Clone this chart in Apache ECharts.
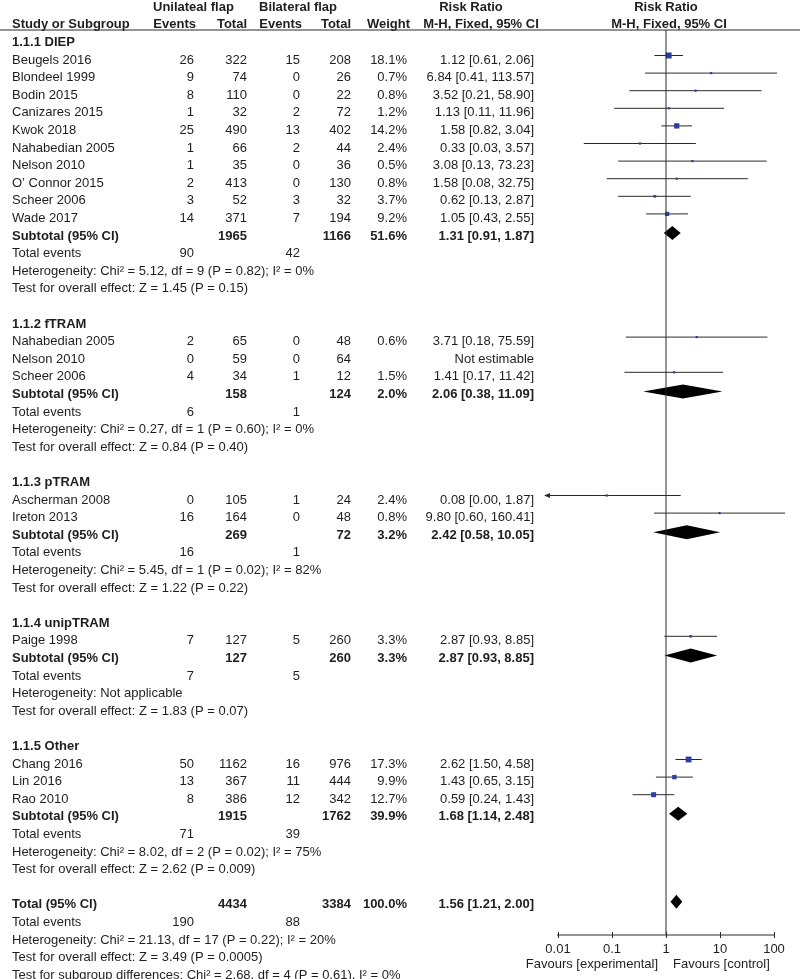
<!DOCTYPE html>
<html><head><meta charset="utf-8">
<script src="https://cdn.jsdelivr.net/npm/echarts@6/dist/echarts.min.js"></script>
<style>html,body{margin:0;padding:0;background:#fff}#c{width:800px;height:979px}</style>
</head><body><div id="c"></div><script>
// ---------------- DATA ----------------
const groupTitles = ['1.1.1 DIEP','1.1.2 fTRAM','1.1.3 pTRAM','1.1.4 unipTRAM','1.1.5 Other'];
const studyNames = ['Beugels 2016','Blondeel 1999','Bodin 2015','Canizares 2015','Kwok 2018','Nahabedian 2005','Nelson 2010','O\u2019 Connor 2015','Scheer 2006','Wade 2017',
  'Nahabedian 2005','Nelson 2010','Scheer 2006','Ascherman 2008','Ireton 2013','Paige 1998','Chang 2016','Lin 2016','Rao 2010'];
const studyGroup = [0,0,0,0,0,0,0,0,0,0,1,1,1,2,2,3,4,4,4];
const uniEvents = [26,9,8,1,25,1,1,2,3,14,2,0,4,0,16,7,50,13,8];
const uniTotal = [322,74,110,32,490,66,35,413,52,371,65,59,34,105,164,127,1162,367,386];
const biEvents = [15,0,0,2,13,2,0,0,3,7,0,0,1,1,0,5,16,11,12];
const biTotal = [208,26,22,72,402,44,36,130,32,194,48,64,12,24,48,260,976,444,342];
const studyWeight = [18.1,0.7,0.8,1.2,14.2,2.4,0.5,0.8,3.7,9.2,0.6,null,1.5,2.4,0.8,3.3,17.3,9.9,12.7];
const studyRR = [1.12,6.84,3.52,1.13,1.58,0.33,3.08,1.58,0.62,1.05,3.71,null,1.41,0.08,9.80,2.87,2.62,1.43,0.59];
const studyLow = [0.61,0.41,0.21,0.11,0.82,0.03,0.13,0.08,0.13,0.43,0.18,null,0.17,0.00,0.60,0.93,1.50,0.65,0.24];
const studyHigh = [2.06,113.57,58.90,11.96,3.04,3.57,73.23,32.75,2.87,2.55,75.59,null,11.42,1.87,160.41,8.85,4.58,3.15,1.43];

const subUniTotal = [1965,158,269,127,1915];
const subBiTotal = [1166,124,72,260,1762];
const subWeight = [51.6,2.0,3.2,3.3,39.9];
const subRR = [1.31,2.06,2.42,2.87,1.68];
const subLow = [0.91,0.38,0.58,0.93,1.14];
const subHigh = [1.87,11.09,10.05,8.85,2.48];
const subUniEvents = [90,6,16,7,71];
const subBiEvents = [42,1,1,5,39];
const subHetero = [
  'Heterogeneity: Chi\u00b2 = 5.12, df = 9 (P = 0.82); I\u00b2 = 0%',
  'Heterogeneity: Chi\u00b2 = 0.27, df = 1 (P = 0.60); I\u00b2 = 0%',
  'Heterogeneity: Chi\u00b2 = 5.45, df = 1 (P = 0.02); I\u00b2 = 82%',
  'Heterogeneity: Not applicable',
  'Heterogeneity: Chi\u00b2 = 8.02, df = 2 (P = 0.02); I\u00b2 = 75%'];
const subEffect = [
  'Test for overall effect: Z = 1.45 (P = 0.15)',
  'Test for overall effect: Z = 0.84 (P = 0.40)',
  'Test for overall effect: Z = 1.22 (P = 0.22)',
  'Test for overall effect: Z = 1.83 (P = 0.07)',
  'Test for overall effect: Z = 2.62 (P = 0.009)'];

const totalUni = 4434, totalBi = 3384, totalWeight = 100.0;
const totalRR = 1.56, totalLow = 1.21, totalHigh = 2.00;
const totalUniEvents = 190, totalBiEvents = 88;
const totalNotes = [
  'Heterogeneity: Chi\u00b2 = 21.13, df = 17 (P = 0.22); I\u00b2 = 20%',
  'Test for overall effect: Z = 3.49 (P = 0.0005)',
  'Test for subgroup differences: Chi\u00b2 = 2.68, df = 4 (P = 0.61), I\u00b2 = 0%'];

const tickValues = [0.01,0.1,1,10,100];
const tickLabels = ['0.01','0.1','1','10','100'];
const favourLeft = 'Favours [experimental]';
const favourRight = 'Favours [control]';

// ---------------- LAYOUT ----------------
const FONT = 'Liberation Sans, Arial, Helvetica, sans-serif';
const FS = 13;
const TXT = '#1e1e1e';
const LINE = '#2a2a2a';
const SQUARE = '#2e3ca6';
const gridTop = 30, gridH = 905;
const rowPitch = 17.6;
const yMin = 3 - (60 - gridTop) / rowPitch;
const yMax = yMin + gridH / rowPitch;
const dispMin = Math.pow(10, -2.24), dispMax = Math.pow(10, 2.24);
const col = {name:12, ue:194, ut:247, be:300, bt:351, w:407, rr:534};

const fmt2 = v => v.toFixed(2);
const rrText = (r,l,h) => r == null ? 'Not estimable' : fmt2(r) + ' [' + fmt2(l) + ', ' + fmt2(h) + ']';
const wText = w => w == null ? '' : w.toFixed(1) + '%';

// build rows
const texts = [];   // {x,row,text,align,bold}
const studyPts = []; // [rr,row,lo,hi,w]
const diamonds = []; // [rr,row,lo,hi]
function T(x,row,text,align,bold){ texts.push({x,row,text:String(text),align:align||'left',bold:!!bold}); }

T(153,0,'Unilateal flap','left',true);
T(259,0,'Bilateral flap','left',true);
T(471,0,'Risk Ratio','center',true);
T(666,0,'Risk Ratio','center',true);
T(col.name,1,'Study or Subgroup','left',true);
T(196,1,'Events','right',true);
T(col.ut,1,'Total','right',true);
T(302,1,'Events','right',true);
T(col.bt,1,'Total','right',true);
T(410,1,'Weight','right',true);
T(481,1,'M-H, Fixed, 95% CI','center',true);
T(669,1,'M-H, Fixed, 95% CI','center',true);

let row = 2;
groupTitles.forEach((g, gi) => {
  T(col.name,row,g,'left',true); row++;
  studyNames.forEach((n, i) => {
    if (studyGroup[i] !== gi) return;
    T(col.name,row,n);
    T(col.ue,row,uniEvents[i],'right');
    T(col.ut,row,uniTotal[i],'right');
    T(col.be,row,biEvents[i],'right');
    T(col.bt,row,biTotal[i],'right');
    T(col.w,row,wText(studyWeight[i]),'right');
    T(col.rr,row,rrText(studyRR[i],studyLow[i],studyHigh[i]),'right');
    if (studyRR[i] != null) studyPts.push([studyRR[i],row,studyLow[i],studyHigh[i],studyWeight[i]]);
    row++;
  });
  T(col.name,row,'Subtotal (95% CI)','left',true);
  T(col.ut,row,subUniTotal[gi],'right',true);
  T(col.bt,row,subBiTotal[gi],'right',true);
  T(col.w,row,wText(subWeight[gi]),'right',true);
  T(col.rr,row,rrText(subRR[gi],subLow[gi],subHigh[gi]),'right',true);
  diamonds.push([subRR[gi],row,subLow[gi],subHigh[gi]]);
  row++;
  T(col.name,row,'Total events'); T(col.ue,row,subUniEvents[gi],'right'); T(col.be,row,subBiEvents[gi],'right'); row++;
  T(col.name,row,subHetero[gi]); row++;
  T(col.name,row,subEffect[gi]); row++;
  row++;
});
T(col.name,row,'Total (95% CI)','left',true);
T(col.ut,row,totalUni,'right',true);
T(col.bt,row,totalBi,'right',true);
T(col.w,row,wText(totalWeight),'right',true);
T(col.rr,row,rrText(totalRR,totalLow,totalHigh),'right',true);
diamonds.push([totalRR,row,totalLow,totalHigh]);
row++;
T(col.name,row,'Total events'); T(col.ue,row,totalUniEvents,'right'); T(col.be,row,totalBiEvents,'right'); row++;
totalNotes.forEach(t => { T(col.name,row,t); row++; });
const favRow = yMin + (964 - gridTop) / rowPitch;
T(658,favRow,favourLeft,'right');
T(673,favRow,favourRight,'left');

// ---------------- CHART ----------------
const chart = echarts.init(document.getElementById('c'));

function renderText(params, api){
  const t = texts[api.value(2)];
  const p = api.coord([api.value(0), api.value(1)]);
  return {type:'text', x:p[0], y:p[1], style:{text:t.text, fill:TXT,
    font:(t.bold?'bold ':'') + FS + 'px ' + FONT, align:t.align, verticalAlign:'middle'}};
}
function renderStudy(params, api){
  const rr = api.value(0), r = api.value(1), lo = api.value(2), hi = api.value(3), w = api.value(4);
  const y = api.coord([1, r])[1] - 4.5;
  const x0 = api.coord([Math.max(lo, dispMin), r])[0];
  const x1 = api.coord([Math.min(hi, dispMax), r])[0];
  const xc = api.coord([rr, r])[0];
  const s = Math.max(2.2, 1.4 * Math.sqrt(w));
  const ch = [
    {type:'line', shape:{x1:x0, y1:y, x2:x1, y2:y}, style:{stroke:LINE, lineWidth:1}},
    {type:'rect', shape:{x:xc - s/2, y:y - s/2, width:s, height:s}, style:{fill:SQUARE}}
  ];
  if (lo < dispMin) ch.push({type:'polygon', shape:{points:[[x0-1,y],[x0+5,y-2.5],[x0+5,y+2.5]]}, style:{fill:LINE}});
  if (hi > dispMax) ch.push({type:'polygon', shape:{points:[[x1+1,y],[x1-5,y-2.5],[x1-5,y+2.5]]}, style:{fill:LINE}});
  return {type:'group', children:ch};
}
function renderDiamond(params, api){
  const rr = api.value(0), r = api.value(1), lo = api.value(2), hi = api.value(3);
  const y = api.coord([1, r])[1] - 3;
  const xl = api.coord([lo, r])[0], xr = api.coord([hi, r])[0], xc = api.coord([rr, r])[0];
  return {type:'polygon', shape:{points:[[xl,y],[xc,y-7],[xr,y],[xc,y+7]]}, style:{fill:'#000'}};
}

chart.setOption({
  animation:false,
  backgroundColor:'#fff',
  grid:[
    {left:558, width:216, top:gridTop, height:gridH},
    {left:0, width:800, top:gridTop, height:gridH}
  ],
  xAxis:[
    {type:'log', gridIndex:0, min:tickValues[0], max:tickValues[tickValues.length-1], logBase:10,
     axisLine:{show:false}, splitLine:{show:false},
     axisTick:{show:true, length:3, lineStyle:{color:LINE}},
     axisLabel:{show:true, margin:8, color:TXT, fontSize:FS, fontFamily:FONT,
       formatter: v => { const i = tickValues.findIndex(t => Math.abs(Math.log10(t) - Math.log10(v)) < 1e-6); return i >= 0 ? tickLabels[i] : ''; }}},
    {type:'log', gridIndex:0, min:tickValues[0], max:tickValues[tickValues.length-1], logBase:10, position:'bottom',
     axisLine:{show:false}, splitLine:{show:false}, axisLabel:{show:false},
     axisTick:{show:true, inside:true, length:3, lineStyle:{color:LINE}}},
    {type:'value', gridIndex:1, min:0, max:800, show:false}
  ],
  yAxis:[
    {type:'value', gridIndex:0, min:yMin, max:yMax, inverse:true, show:false},
    {type:'value', gridIndex:1, min:yMin, max:yMax, inverse:true, show:false}
  ],
  series:[
    {type:'line', xAxisIndex:2, yAxisIndex:1, data:[[0,yMin],[800,yMin]], symbol:'none', clip:false,
     lineStyle:{color:LINE, width:1}, silent:true},
    {type:'line', xAxisIndex:0, yAxisIndex:0, data:[[1,yMin],[1,yMax]], symbol:'none', clip:false,
     lineStyle:{color:LINE, width:1}, silent:true},
    {type:'line', xAxisIndex:0, yAxisIndex:0, data:[[dispMin,yMax],[dispMax,yMax]], symbol:'none', clip:false,
     lineStyle:{color:LINE, width:1}, silent:true},
    {type:'custom', xAxisIndex:0, yAxisIndex:0, clip:false, renderItem:renderStudy, data:studyPts, silent:true},
    {type:'custom', xAxisIndex:0, yAxisIndex:0, clip:false, renderItem:renderDiamond, data:diamonds, silent:true},
    {type:'custom', xAxisIndex:2, yAxisIndex:1, clip:false, renderItem:renderText,
     data:texts.map((t,i) => [t.x, t.row, i]), silent:true}
  ]
});
</script></body></html>
